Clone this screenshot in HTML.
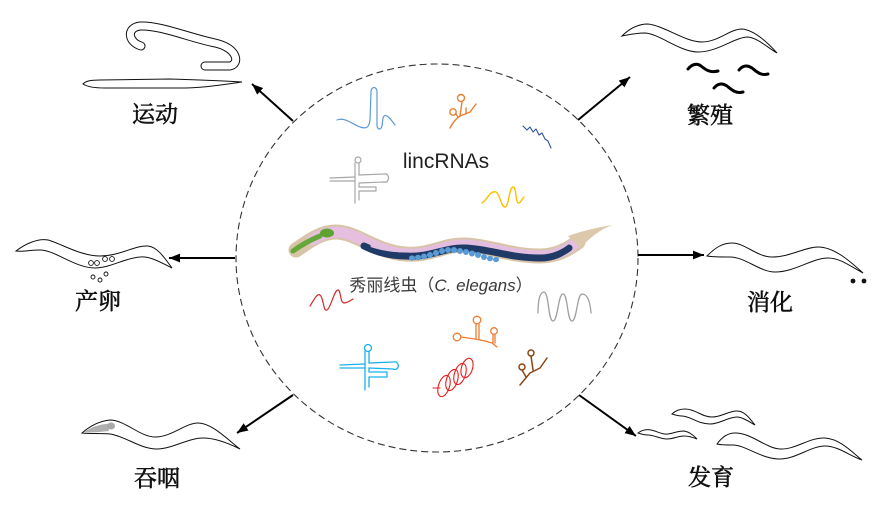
<!DOCTYPE html>
<html><head><meta charset="utf-8"><style>
html,body{margin:0;padding:0;background:#fff;}
svg{display:block;}
.lbl{font-family:"Liberation Serif","Noto Serif CJK SC",serif;font-size:23px;font-weight:normal;fill:#111;stroke:#111;stroke-width:0.6;text-anchor:middle;}
.w{fill:#fff;stroke:#111;stroke-width:1;}
</style></head><body>
<svg width="894" height="517" viewBox="0 0 894 517" xmlns="http://www.w3.org/2000/svg">
<defs>
<marker id="ah" viewBox="0 0 10 8" refX="10" refY="4" markerWidth="11" markerHeight="9" markerUnits="userSpaceOnUse" orient="auto"><path d="M0,0 L10,4 L0,8 Z" fill="#000"/></marker>
</defs>
<rect width="894" height="517" fill="#fff"/>

<!-- dashed circle -->
<ellipse cx="437" cy="258" rx="201" ry="194" fill="none" stroke="#333" stroke-width="1.1" stroke-dasharray="7,4"/>

<!-- arrows -->
<g stroke="#000" stroke-width="2" marker-end="url(#ah)">
<line x1="293" y1="121" x2="252" y2="84"/>
<line x1="235" y1="258" x2="169" y2="258"/>
<line x1="578" y1="120" x2="630" y2="77"/>
<line x1="638" y1="255" x2="704" y2="255"/>
<line x1="293" y1="395" x2="237" y2="433"/>
<line x1="579" y1="395" x2="636" y2="436"/>
</g>

<!-- 运动 worms -->
<path d="M141,46 C128,42 126,28 140,26 C160,25 190,38 215,43 C238,48 240,64 230,66 L205,66" fill="none" stroke="#111" stroke-width="9" stroke-linecap="round"/>
<path d="M141,46 C128,42 126,28 140,26 C160,25 190,38 215,43 C238,48 240,64 230,66 L205,66" fill="none" stroke="#fff" stroke-width="7" stroke-linecap="round"/>
<path class="w" d="M83,84 C86,81 90,80 100,80 L170,79 C200,80 225,81 242,82 C228,84 205,88 185,88 L105,88 C93,88 86,86 83,84 Z"/>
<text class="lbl" x="155" y="122">运动</text>

<!-- 产卵 -->
<path class="w" d="M16,251 C25,244 38,238 48,240 C60,243 80,256 100,256 C120,256 135,245 148,246 C158,247 166,260 172,268 C160,262 150,256 140,257 C125,258 110,268 95,268 C75,268 55,250 40,250 C30,250 22,252 16,251 Z"/>
<g fill="none" stroke="#111" stroke-width="0.9">
<circle cx="91" cy="263" r="2.4"/><circle cx="97" cy="263" r="2.4"/>
<circle cx="105" cy="259" r="2.4"/><circle cx="112" cy="259" r="2.4"/>
<circle cx="93" cy="277" r="2"/><circle cx="100" cy="280" r="2"/><circle cx="106" cy="274" r="2"/>
</g>
<text class="lbl" x="98" y="309">产卵</text>

<!-- 繁殖 -->
<path class="w" d="M622,36 C630,28 638,24 648,24 C665,26 685,42 702,42 C718,42 730,29 742,29 C755,30 770,45 777,53 C768,48 758,38 748,37 C735,37 718,52 698,52 C680,52 660,34 645,33 C635,33 628,35 622,36 Z"/>
<g fill="none" stroke="#000" stroke-width="3" stroke-linecap="round">
<path d="M688,69 C692,64 697,63 701,66 C706,70 710,73 718,71"/>
<path d="M739,70 C743,65 748,65 752,68 C757,72 761,76 768,74"/>
<path d="M714,88 C718,83 723,83 727,86 C732,90 736,94 743,92"/>
</g>
<text class="lbl" x="710" y="123">繁殖</text>

<!-- 消化 -->
<path class="w" d="M707,256 C715,248 722,243 732,243 C745,243 757,257 772,257 C790,257 805,247 818,247 C835,247 852,263 863,273 C850,266 840,258 828,258 C812,258 795,272 775,272 C760,272 745,257 730,257 C720,257 712,257 707,256 Z"/>
<circle cx="853" cy="281" r="2.4" fill="#111"/><circle cx="864" cy="281" r="2.4" fill="#111"/>
<text class="lbl" x="770" y="310">消化</text>

<!-- 吞咽 -->
<path class="w" d="M82,433 C90,426 100,421 110,420 C125,420 140,437 155,437 C172,437 185,423 198,423 C212,423 228,440 240,449 C230,444 215,438 203,438 C188,438 172,449 157,449 C140,449 125,436 110,434 C100,433 90,434 82,433 Z"/>
<path d="M84,432 C92,427 100,424 108,424 L109,431 C100,432 90,433 84,432 Z" fill="#b0b0b0"/>
<ellipse cx="111" cy="426" rx="4" ry="3.5" fill="#a8a8a8"/>
<text class="lbl" x="157" y="486">吞咽</text>

<!-- 发育 -->
<path class="w" d="M638,433 C642,430 646,429 651,430 C657,431 662,435 668,434 C674,433 678,431 684,431 C690,432 694,436 697,439 C692,437 688,436 684,436 C678,436 674,439 667,439 C660,439 654,435 648,435 C644,435 641,434 638,433 Z"/>
<path class="w" d="M672,414 C676,410 680,409 685,409 C695,409 702,417 712,417 C722,417 728,411 737,411 C745,411 750,419 755,425 C748,421 742,417 737,417 C728,417 720,424 710,424 C698,424 690,416 682,416 C678,416 675,415 672,414 Z"/>
<path class="w" d="M717,444 C722,437 728,433 735,433 C752,433 765,448 780,449 C795,450 810,437 825,438 C840,439 852,452 862,460 C850,456 838,446 825,446 C810,446 795,460 778,459 C760,458 745,445 733,445 C727,445 721,445 717,444 Z"/>
<text class="lbl" x="711" y="485">发育</text>

<!-- center worm -->
<g fill="none" stroke-linecap="round">
<path d="M296,250 C308,242 320,232 336,232 C356,232 376,252 405,254 C430,256 445,244 465,245 C490,246 510,256 540,256 C560,256 572,246 578,242" stroke="#d8c4a6" stroke-width="15"/>
<path d="M312,240 C322,234 328,232 336,232 C356,232 376,252 405,254 C430,256 445,244 465,245 C490,246 510,256 540,256 C560,256 570,247 576,243" stroke="#e6bfe0" stroke-width="11"/>
<path d="M364,246 C378,253 392,256 405,256 C430,258 445,247 465,248 C490,249 510,258 540,258 C555,258 563,252 569,248" stroke="#1f3a66" stroke-width="7"/>
<path d="M372,246 C385,250 395,251 405,251 C430,252 445,241 465,242 C490,243 515,253 545,252 C555,252 563,247 568,243" stroke="#e2bde0" stroke-width="3"/>
</g>
<path d="M568,236 C585,230 600,227 613,225 C600,229 590,238 580,248 Z" fill="#dcc8aa"/>
<g fill="#5b9bd5">
<ellipse cx="412" cy="258" rx="3" ry="2.6"/><ellipse cx="418" cy="257.5" rx="3" ry="2.8"/><ellipse cx="424" cy="256.5" rx="3" ry="3"/>
<ellipse cx="430" cy="255" rx="3" ry="3"/><ellipse cx="436" cy="253" rx="3" ry="3"/><ellipse cx="442" cy="251" rx="3" ry="3"/>
<ellipse cx="448" cy="250" rx="3" ry="3"/><ellipse cx="454" cy="250" rx="3" ry="3"/><ellipse cx="460" cy="251" rx="3" ry="3"/>
<ellipse cx="466" cy="252" rx="3" ry="3"/><ellipse cx="472" cy="253.5" rx="3" ry="3"/><ellipse cx="478" cy="255" rx="3" ry="3"/>
<ellipse cx="484" cy="257" rx="3" ry="3"/><ellipse cx="490" cy="258.5" rx="3" ry="2.8"/><ellipse cx="496" cy="259.5" rx="3" ry="2.6"/>
</g>
<path d="M293,251 C300,246 310,240 320,236" stroke="#64a83a" stroke-width="5" fill="none" stroke-linecap="round"/>
<ellipse cx="327" cy="233" rx="7" ry="4.5" fill="#5ea232"/>

<!-- texts -->
<text x="446" y="168" font-family="'Liberation Sans',sans-serif" font-size="21" fill="#222" text-anchor="middle">lincRNAs</text>
<text x="441" y="291" font-family="'Liberation Sans','Noto Sans CJK SC',sans-serif" font-size="17" fill="#3a3a3a" text-anchor="middle">秀丽线虫（<tspan font-style="italic">C. elegans</tspan>）</text>

<!-- RNAs -->
<g fill="none" stroke-width="1.2" stroke-linecap="round" stroke-linejoin="round">
<path d="M337,120 C345,117 352,124 360,127 C366,129 369,128 370,120 L371,92 C371,86 377,86 377,92 L377,126 C378,130 381,130 382,126 L383,118 C385,112 390,118 395,125" stroke="#5b9bd5"/>
<g stroke="#ed7d31" stroke-width="1.4">
<circle cx="461" cy="98" r="3.5"/><circle cx="453" cy="112" r="3.2"/>
<path d="M450,128 C453,122 457,118 460,116 L470,112 L476,104"/>
<path d="M460,116 L462,102 M456,114 L458,117 M466,114 L466,108"/>
</g>
<path d="M523,126 L527,130 L530,127 L533,132 L536,129 L539,135 L542,133 L545,139 L548,141 L551,148" stroke="#2f5597" stroke-width="1.1"/>
<g stroke="#a6a6a6" stroke-width="1.2">
<circle cx="358" cy="160" r="3"/>
<path d="M355,163 L355,203 M359,163 L359,175 M359,183 L359,187 M359,191 L359,200"/>
<path d="M330,178 L355,177 M330,181 L355,181"/>
<path d="M359,175 L384,174 C390,172 390,184 384,182 L359,183"/>
<path d="M359,187 L376,187 L376,191 L359,191"/>
</g>
<path d="M482,203 C487,200 490,190 496,192 C500,194 501,207 505,207 C509,207 509,187 513,187 C517,187 515,204 519,203 C521,202 522,199 524,197" stroke="#ffc000" stroke-width="1.4"/>
<path d="M310,306 C314,300 317,293 320,295 C324,298 323,312 327,310 C331,308 334,290 338,290 C341,290 340,303 344,303 C347,303 350,301 353,299" stroke="#d02a2a"/>
<path d="M538,313 C538,300 540,292 544,292 C549,292 548,321 553,321 C558,321 558,294 563,294 C568,294 567,321 572,321 C577,321 577,294 582,294 C587,294 590,300 591,313" stroke="#a0a0a0" stroke-width="1.3"/>
<g stroke="#ed7d31" stroke-width="1.3">
<circle cx="477" cy="320" r="3.8"/><circle cx="494" cy="331" r="3.3"/><circle cx="457" cy="337" r="3.8"/>
<path d="M461,337 L475,339 L485,341 L492,343 L497,347 M476,324 L476,339 M479,324 L479,339 M493,335 L493,343 M495,335 L495,343"/>
</g>
<g stroke="#1ab0ec" stroke-width="1.3">
<circle cx="368" cy="348" r="3.5"/>
<path d="M365,351 L365,390 M369,351 L369,363 M369,368 L369,372 M369,377 L369,387"/>
<path d="M340,365 L365,364 M340,368 L365,368"/>
<path d="M369,363 L393,362 C400,360 400,372 393,369 L369,368"/>
<path d="M369,372 L387,372 L387,377 L369,377"/>
</g>
<g stroke="#e81e1e" stroke-width="1.1">
<path d="M433,388 L440,388"/>
<ellipse cx="444" cy="386" rx="5.5" ry="11" transform="rotate(18 444 386)"/>
<ellipse cx="452" cy="380" rx="5.5" ry="11" transform="rotate(18 452 380)"/>
<ellipse cx="460" cy="374" rx="5.5" ry="11" transform="rotate(18 460 374)"/>
<ellipse cx="467" cy="368" rx="5.5" ry="10" transform="rotate(18 467 368)"/>
</g>
<g stroke="#8b4513" stroke-width="1.5">
<circle cx="531" cy="353" r="3"/><circle cx="522" cy="367" r="3"/>
<path d="M520,385 L530,373 L540,368 L547,358 M531,356 L533,370 M522,370 L526,377"/>
</g>
</g>
</svg>
</body></html>
